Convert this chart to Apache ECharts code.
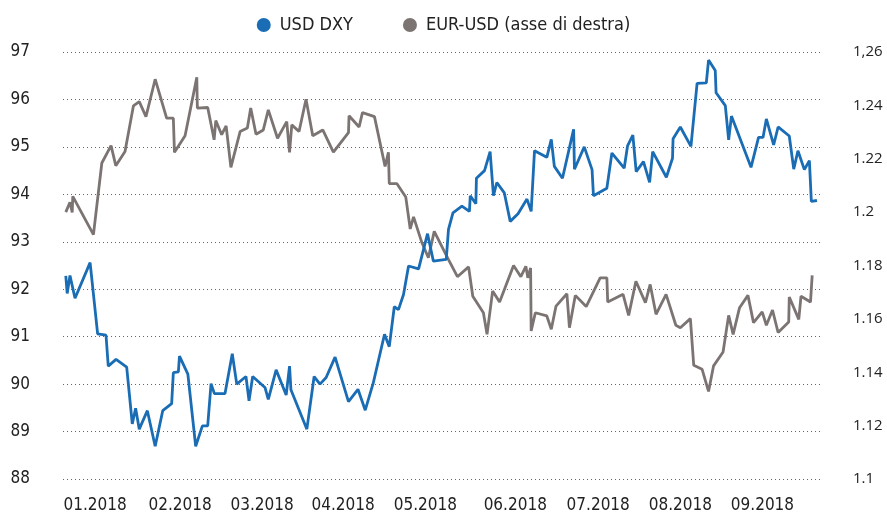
<!DOCTYPE html>
<html>
<head>
<meta charset="utf-8">
<script src="https://cdn.jsdelivr.net/npm/echarts@6/dist/echarts.min.js"></script>
<style>
  html, body { margin: 0; padding: 0; background: #fff; }
  #main { width: 887px; height: 514px; }
</style>
</head>
<body>
<div id="main"></div>
<script>
// days since 01.01.2018
var dxyDays = [1.0, 1.5, 2.5, 4.3, 9.7, 12.4, 15.4, 16.2, 19.0, 22.8, 24.8, 26.0, 27.3, 30.2, 33.0, 35.7, 38.9, 39.5, 41.3, 41.7,
  44.7, 47.5, 49.9, 51.8, 53.0, 54.2, 58.0, 60.6, 62.2, 65.5, 66.6, 67.9, 72.3, 73.5, 76.3, 79.9, 81.1, 81.6, 87.3, 89.9,
  92.0, 94.2, 97.4, 102.2, 105.6, 108.2, 111.1, 115.1, 116.8, 118.6, 120.1, 121.9, 123.7, 127.3, 130.5, 132.6, 137.2, 138.0, 139.6, 142.8,
  145.5, 145.8, 147.8, 148.0, 150.9, 152.9, 154.1, 155.3, 158.0, 160.1, 162.9, 166.1, 167.6, 168.8, 173.2, 174.8, 175.9, 178.8, 182.8, 183.1,
  186.6, 189.4, 189.9, 194.7, 196.5, 200.9, 202.1, 204.0, 205.2, 207.8, 210.0, 211.1, 216.0, 218.2, 218.4, 221.0, 224.8, 227.0, 230.3, 231.1,
  233.5, 233.8, 237.1, 238.3, 239.3, 246.3, 249.0, 250.6, 251.8, 254.4, 256.0, 260.0, 261.6, 263.1, 265.4, 267.2, 267.9, 269.9];
var dxyValues = [92.28, 91.91, 92.29, 91.81, 92.56, 91.06, 91.03, 90.38, 90.52, 90.36, 89.16, 89.49, 89.05, 89.44, 88.69, 89.44, 89.59, 90.24, 90.26, 90.59,
  90.21, 88.69, 89.12, 89.12, 90.01, 89.80, 89.80, 90.64, 90.00, 90.16, 89.65, 90.16, 89.93, 89.68, 90.30, 89.77, 90.38, 89.88, 89.05, 90.16,
  90.00, 90.14, 90.57, 89.63, 89.89, 89.45, 90.03, 91.05, 90.79, 91.63, 91.57, 91.89, 92.49, 92.43, 93.17, 92.59, 92.63, 93.26, 93.61, 93.75,
  93.64, 93.97, 93.80, 94.34, 94.50, 94.90, 93.97, 94.25, 94.03, 93.43, 93.59, 93.90, 93.64, 94.92, 94.78, 95.16, 94.59, 94.34, 95.37, 94.53,
  95.00, 94.52, 93.97, 94.13, 94.87, 94.55, 95.02, 95.25, 94.48, 94.69, 94.25, 94.90, 94.36, 94.76, 95.17, 95.42, 95.01, 96.34, 96.35, 96.83,
  96.61, 96.14, 95.87, 95.15, 95.65, 94.57, 95.20, 95.20, 95.59, 95.04, 95.42, 95.23, 94.53, 94.92, 94.52, 94.71, 93.85, 93.87];

var eurDays = [1.0, 2.5, 3.3, 3.5, 10.9, 13.9, 17.2, 18.9, 22.2, 25.2, 27.3, 29.7, 33.0, 37.1, 39.5, 39.9, 43.7, 47.9, 48.1, 51.8,
  54.1, 54.7, 56.8, 58.4, 60.1, 63.4, 66.0, 67.2, 69.1, 71.7, 73.5, 76.8, 80.1, 81.1, 81.9, 84.5, 87.0, 89.4, 93.0, 96.8,
  102.2, 102.4, 106.0, 107.2, 111.5, 115.3, 116.5, 116.8, 119.5, 122.7, 124.3, 125.5, 128.5, 130.8, 132.9, 138.0, 141.2, 145.2, 146.7, 150.5,
  151.8, 153.8, 156.3, 161.3, 163.9, 165.7, 166.4, 167.4, 167.6, 169.1, 173.2, 174.8, 176.5, 180.4, 181.3, 183.4, 187.3, 192.3, 194.7, 195.0,
  200.5, 202.5, 205.1, 208.5, 210.2, 212.3, 215.9, 219.4, 221.0, 224.6, 225.8, 228.8, 231.1, 232.9, 236.3, 238.3, 239.9, 242.2, 245.2, 247.2,
  250.3, 251.8, 254.0, 256.0, 259.8, 260.0, 263.4, 264.2, 267.6, 268.2];
var eurValues = [1.2000, 1.2037, 1.1999, 1.2059, 1.1916, 1.2184, 1.2249, 1.2174, 1.2227, 1.2398, 1.2414, 1.2358, 1.2498, 1.2352, 1.2352, 1.2224, 1.2286, 1.2505, 1.2390, 1.2392,
  1.2271, 1.2343, 1.2290, 1.2323, 1.2168, 1.2302, 1.2315, 1.2390, 1.2292, 1.2308, 1.2383, 1.2277, 1.2339, 1.2224, 1.2327, 1.2302, 1.2423, 1.2286, 1.2308, 1.2225,
  1.2298, 1.2361, 1.2319, 1.2373, 1.2358, 1.2171, 1.2224, 1.2107, 1.2107, 1.2057, 1.1937, 1.1982, 1.1885, 1.1829, 1.1928, 1.1822, 1.1758, 1.1795, 1.1685, 1.1623,
  1.1542, 1.1704, 1.1663, 1.1800, 1.1758, 1.1797, 1.1754, 1.1791, 1.1555, 1.1623, 1.1611, 1.1561, 1.1648, 1.1694, 1.1567, 1.1688, 1.1646, 1.1754, 1.1754, 1.1663,
  1.1692, 1.1613, 1.1741, 1.1661, 1.1729, 1.1617, 1.1692, 1.1576, 1.1567, 1.1601, 1.1426, 1.1411, 1.1328, 1.1424, 1.1476, 1.1613, 1.1542, 1.1642, 1.1688, 1.1586,
  1.1626, 1.1576, 1.1633, 1.1549, 1.1588, 1.1682, 1.1598, 1.1685, 1.1663, 1.1763];

var monthLabels = ['01.2018', '02.2018', '03.2018', '04.2018', '05.2018', '06.2018', '07.2018', '08.2018', '09.2018'];
var monthLabelDays = [11.5, 41.9, 71.3, 100.3, 129.7, 161.9, 191.6, 221.0, 250.4];
var rightTickValues = [1.1, 1.12, 1.14, 1.16, 1.18, 1.2, 1.22, 1.24, 1.26];
var rightTickLabels = ['1.1', '1.12', '1.14', '1.16', '1.18', '1.2', '1.22', '1.24', '1,26'];

function pairs(xs, ys) {
  var out = [];
  for (var i = 0; i < xs.length; i++) out.push([xs[i], ys[i]]);
  return out;
}

var narrow = '"Liberation Sans Narrow", "DejaVu Sans Condensed", "Roboto", sans-serif';
var blue = '#1a6db4';
var grey = '#7b7472';

var myChart = echarts.init(document.getElementById('main'));
var option = {
  animation: false,
  legend: {
    top: 11,
    left: 'center',
    itemGap: 50,
    itemWidth: 14,
    itemHeight: 14,
    textStyle: { fontFamily: narrow, fontSize: 18, color: '#222', padding: [0, 0, 0, 4] },
    data: [
      { name: 'USD DXY', icon: 'circle' },
      { name: 'EUR-USD (asse di destra)', icon: 'circle' }
    ]
  },
  grid: { left: 63, right: 67, top: 52, bottom: 34 },
  xAxis: {
    type: 'value',
    min: 0,
    max: 271,
    axisLine: { show: false },
    axisTick: { show: false },
    splitLine: { show: false },
    axisLabel: {
      customValues: monthLabelDays,
      margin: 18,
      fontFamily: narrow,
      fontSize: 17,
      color: '#222',
      formatter: function (v) {
        var i = monthLabelDays.indexOf(v);
        return i >= 0 ? monthLabels[i] : '';
      }
    }
  },
  yAxis: [
    {
      type: 'value',
      min: 88,
      max: 97,
      interval: 1,
      axisLine: { show: false },
      axisTick: { show: false },
      axisLabel: { margin: 33, fontFamily: narrow, fontSize: 17, color: '#222' },
      splitLine: { lineStyle: { type: [1, 3], color: '#666', width: 1 } }
    },
    {
      type: 'value',
      min: 1.1,
      max: 1.26,
      interval: 0.02,
      axisLine: { show: false },
      axisTick: { show: false },
      splitLine: { show: false },
      axisLabel: {
        margin: 33,
        fontFamily: '"Open Sans", "Noto Sans", sans-serif',
        fontSize: 15,
        color: '#222',
        formatter: function (v) {
          for (var i = 0; i < rightTickValues.length; i++) {
            if (Math.abs(rightTickValues[i] - v) < 0.001) return rightTickLabels[i];
          }
          return '';
        }
      }
    }
  ],
  series: [
    {
      name: 'EUR-USD (asse di destra)',
      type: 'line',
      yAxisIndex: 1,
      color: grey,
      showSymbol: false,
      z: 2,
      lineStyle: { width: 2.8, color: grey },
      data: pairs(eurDays, eurValues)
    },
    {
      name: 'USD DXY',
      type: 'line',
      yAxisIndex: 0,
      color: blue,
      showSymbol: false,
      z: 3,
      lineStyle: { width: 2.8, color: blue },
      data: pairs(dxyDays, dxyValues)
    }
  ]
};
myChart.setOption(option);
</script>
</body>
</html>
